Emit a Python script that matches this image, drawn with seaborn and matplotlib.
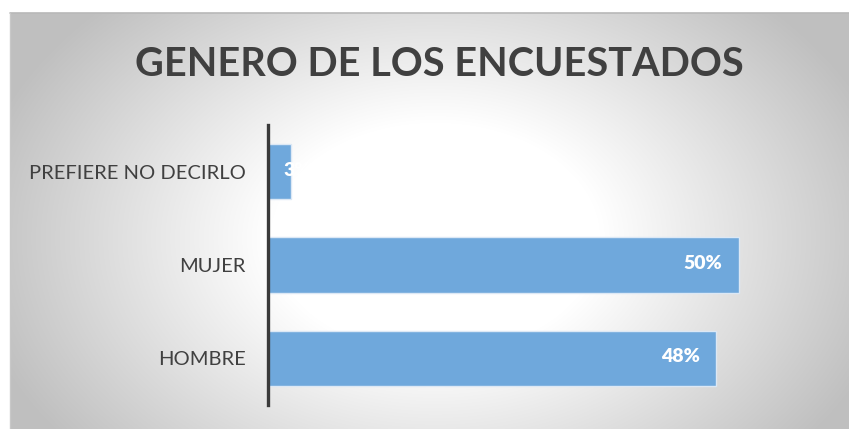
"""Gráfico de barras horizontales: género de los encuestados."""
import matplotlib
matplotlib.use("Agg")
import matplotlib.pyplot as plt
import numpy as np
import pandas as pd
import seaborn as sns

categorias = ["PREFIERE NO DECIRLO", "MUJER", "HOMBRE"]
porcentajes = [2.4, 50.0, 47.6]
etiquetas = ["3%", "50%", "48%"]

W, H = 849, 429
sns.set_theme(style="white")
plt.rcParams["font.family"] = ["Lato", "DejaVu Sans"]

fig = plt.figure(figsize=(W / 100, H / 100), dpi=100)

# fondo con degradado radial (estilo Excel)
bg = fig.add_axes([10 / W, 0, (W - 10) / W, (H - 13) / H], zorder=0)
yy, xx = np.mgrid[0:416, 0:839]
cx, cy = 425, 225
d = np.sqrt(((xx - cx) / 470) ** 2 + ((yy - cy) / 330) ** 2)
d = np.clip((d - 0.35) / 0.65, 0, 1)
g = 1.0 - 0.25 * d ** 1.0
bg.imshow(np.dstack([g, g, g]), aspect="auto", extent=[0, 1, 0, 1], origin="upper")
bg.set_axis_off()
fig.add_artist(plt.Line2D([10 / W, 1], [1 - 13 / H, 1 - 13 / H], color="#b8b8b8", lw=1.2))
fig.add_artist(plt.Line2D([10 / W, 10 / W], [0, 1 - 13 / H], color="#c8c8c8", lw=1))

ax = fig.add_axes([268 / W, 24 / H, 565 / W, 280 / H], zorder=1)
ax.patch.set_alpha(0)

df = pd.DataFrame({"categoria": categorias, "pct": porcentajes})
sns.barplot(data=df, x="pct", y="categoria", orient="h", color="#6FA8DC",
            saturation=1, width=0.59, edgecolor="#dce8f5", linewidth=1, ax=ax)

for i, (v, lab) in enumerate(zip(porcentajes, etiquetas)):
    if v < 10:
        ax.annotate(lab, (0, i), xytext=(11, 1), textcoords="offset points",
                    ha="left", va="center", color="white", fontsize=14, fontweight="heavy")
    else:
        ax.annotate(lab, (v, i), xytext=(-12, 1), textcoords="offset points",
                    ha="right", va="center", color="white", fontsize=14, fontweight="heavy")

ax.set_xlim(0, 60)
ax.set_ylim(2.5, -0.5)
ax.set_xlabel("")
ax.set_ylabel("")
ax.set_xticks([])
for s in ["top", "right", "bottom"]:
    ax.spines[s].set_visible(False)
ax.spines["left"].set_color("#3a3a3a")
ax.spines["left"].set_linewidth(2.4)
ax.tick_params(axis="y", length=0, pad=16, labelsize=14.5, labelcolor="#404040")

fig.text(439 / W, 1 - 64 / H, "GENERO DE LOS ENCUESTADOS", ha="center", va="center",
         fontsize=28.5, fontweight="bold", color="#404040")

fig.savefig("out.png", dpi=100)
plt.close(fig)
